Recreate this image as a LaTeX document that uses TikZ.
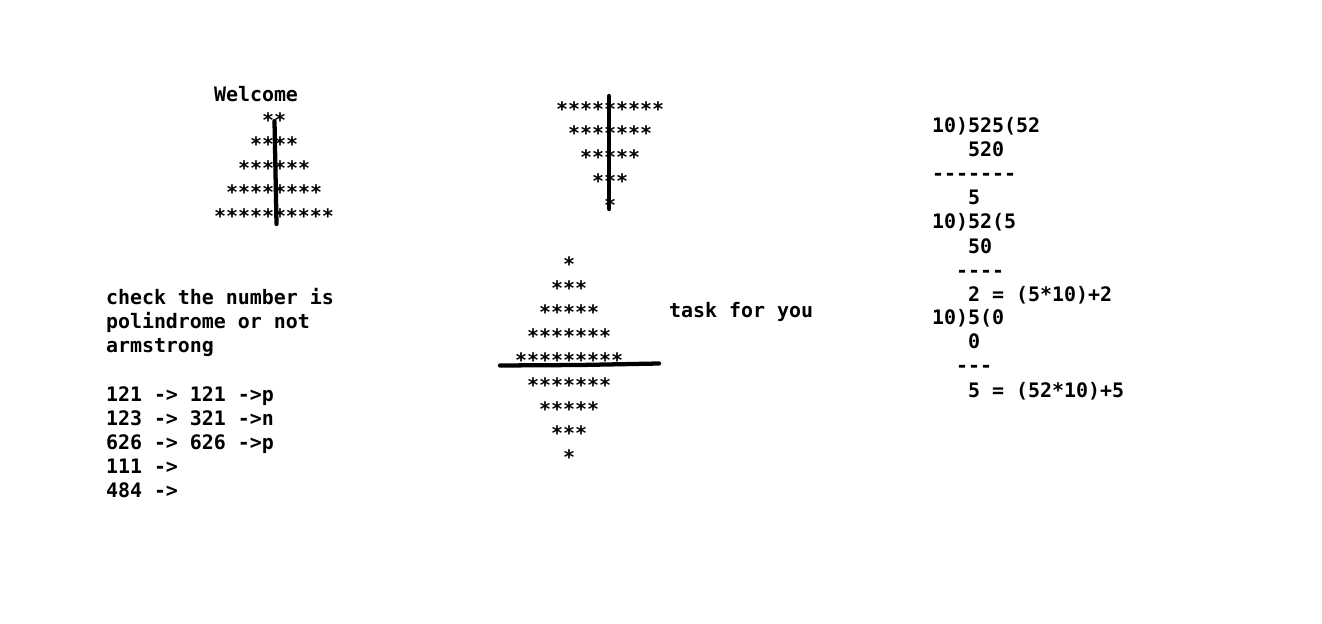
\documentclass[tikz,border=0pt]{standalone}
\usepackage{fontspec}
\setmonofont{DejaVu Sans Mono}
\begin{document}
\begin{tikzpicture}[x=0.75pt,y=-0.75pt,
  txt/.style={anchor=base west,inner sep=0pt,outer sep=0pt,
    font=\ttfamily\bfseries\fontsize{14.95}{18}\selectfont,text=black},
  stroke/.style={line width=3.2pt,line cap=round,black}]
\useasboundingbox[fill=white] (0,0) rectangle (1322,624);
% --- triangle 1
\node[txt] (welcome) at (214,102) {Welcome};
\node[txt] (t1a) at (262,128) {**};
\node[txt] (t1b) at (250,152) {****};
\node[txt] (t1c) at (238,176) {******};
\node[txt] (t1d) at (226,200) {********};
\node[txt] (t1e) at (214,224) {**********};
\draw[stroke] (274.5,121) -- (276.5,224);
% --- inverted triangle
\node[txt] (t2a) at (556,117) {*********};
\node[txt] (t2b) at (568,141) {*******};
\node[txt] (t2c) at (580,165) {*****};
\node[txt] (t2d) at (592,189) {***};
\node[txt] (t2e) at (604,213) {*};
\draw[stroke] (609,96) -- (609,209);
% --- diamond
\node[txt] (d1) at (563,272) {*};
\node[txt] (d2) at (551,296) {***};
\node[txt] (d3) at (539,320) {*****};
\node[txt] (d4) at (527,344) {*******};
\node[txt] (d5) at (515,368) {*********};
\node[txt] (d6) at (527,392) {*******};
\node[txt] (d7) at (539,416) {*****};
\node[txt] (d8) at (551,440) {***};
\node[txt] (d9) at (563,464) {*};
\draw[stroke] (500,365.5) -- (580,365) -- (659,363.5);
\node[txt] (task) at (669,317) {task for you};
% --- left text
\node[txt] (l1) at (106,305) {check the number is};
\node[txt] (l2) at (106,329) {polindrome or not};
\node[txt] (l3) at (106,353) {armstrong};
\node[txt] (l4) at (106,401) {121 -> 121 ->p};
\node[txt] (l5) at (106,425) {123 -> 321 ->n};
\node[txt] (l6) at (106,449) {626 -> 626 ->p};
\node[txt] (l7) at (106,473) {111 ->};
\node[txt] (l8) at (106,497) {484 ->};
% --- right division
\node[txt] (r1) at (932,133) {10)525(52};
\node[txt] (r2) at (968,157) {520};
\node[txt] (r3) at (932,181) {-------};
\node[txt] (r4) at (968,205) {5};
\node[txt] (r5) at (932,229) {10)52(5};
\node[txt] (r6) at (968,253) {50};
\node[txt] (r7) at (956,277) {----};
\node[txt] (r8) at (968,301) {2 = (5*10)+2};
\node[txt] (r9) at (932,325) {10)5(0};
\node[txt] (r10) at (968,349) {0};
\node[txt] (r11) at (956,373) {---};
\node[txt] (r12) at (968,397) {5 = (52*10)+5};
\end{tikzpicture}
\end{document}
